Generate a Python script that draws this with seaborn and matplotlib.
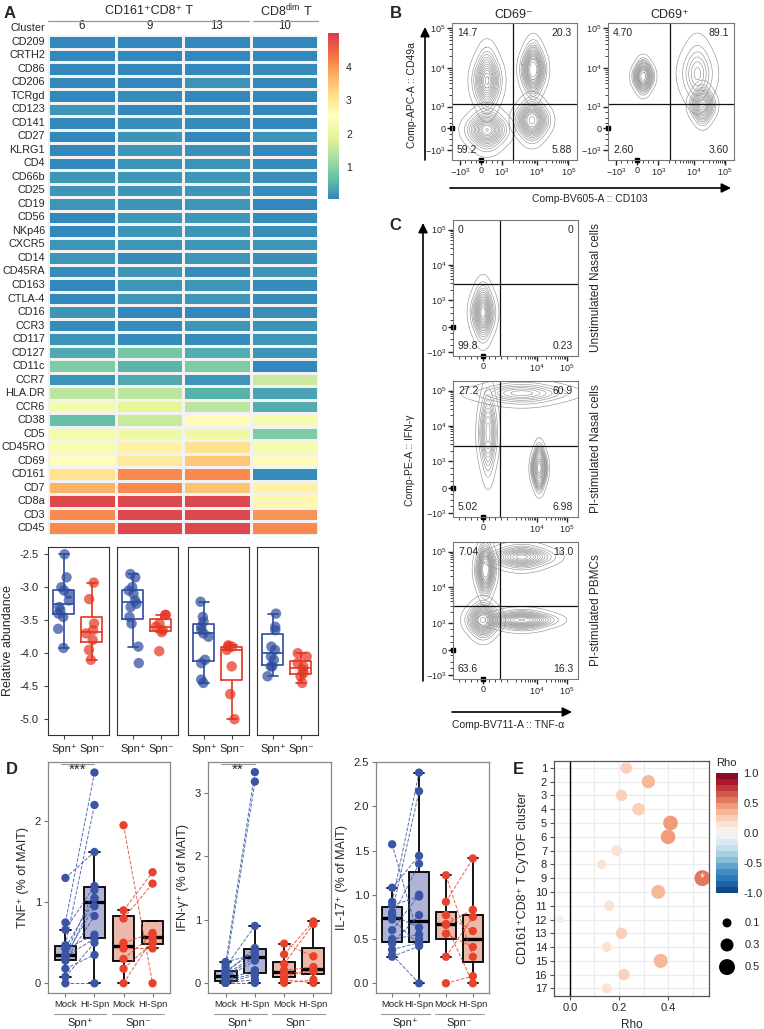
import numpy as np
import pandas as pd
import seaborn as sns
import matplotlib.pyplot as plt
from matplotlib.colors import LinearSegmentedColormap, ListedColormap, Normalize
from matplotlib.cm import ScalarMappable

# ---------------- data: panel A heatmap ----------------
clusters = ['6', '9', '13', '10']
markers = ['CD209', 'CRTH2', 'CD86', 'CD206', 'TCRgd', 'CD123', 'CD141', 'CD27', 'KLRG1',
           'CD4', 'CD66b', 'CD25', 'CD19', 'CD56', 'NKp46', 'CXCR5', 'CD14', 'CD45RA',
           'CD163', 'CTLA-4', 'CD16', 'CCR3', 'CD117', 'CD127', 'CD11c', 'CCR7', 'HLA.DR',
           'CCR6', 'CD38', 'CD5', 'CD45RO', 'CD69', 'CD161', 'CD7', 'CD8a', 'CD3', 'CD45']
expr_c6 = [0.05, 0.05, 0.05, 0.05, 0.05, 0.2, 0.05, 0.05, 0.05, 0.05, 0.2, 0.2, 0.2, 0.05,
           0.05, 0.2, 0.2, 0.1, 0.05, 0.05, 0.2, 0.1, 0.17, 0.4, 0.9, 0.17, 1.5, 2.2, 0.65,
           2.2, 2.35, 2.55, 3.05, 3.7, 4.85, 4.1, 4.1]
expr_c9 = [0.05, 0.05, 0.05, 0.05, 0.1, 0.05, 0.13, 0.2, 0.2, 0.17, 0.2, 0.2, 0.17, 0.2, 0.2,
           0.2, 0.1, 0.2, 0.2, 0.2, 0.05, 0.1, 0.1, 0.8, 0.55, 0.4, 1.5, 1.9, 1.6, 2.1, 2.8,
           2.95, 4.1, 4.1, 4.85, 4.85, 4.85]
expr_c13 = [0.05, 0.05, 0.05, 0.17, 0.05, 0.1, 0.1, 0.05, 0.13, 0.17, 0.2, 0.2, 0.2, 0.2, 0.2,
            0.22, 0.2, 0.1, 0.2, 0.22, 0.05, 0.2, 0.1, 0.45, 0.9, 0.2, 0.5, 1.5, 2.6, 2.1,
            3.1, 3.45, 4.1, 3.5, 4.85, 4.85, 4.85]
expr_c10 = [0.05, 0.05, 0.1, 0.05, 0.05, 0.05, 0.05, 0.17, 0.05, 0.1, 0.13, 0.1, 0.02, 0.1,
            0.13, 0.2, 0.13, 0.2, 0.1, 0.1, 0.13, 0.17, 0.2, 0.2, 0.05, 1.6, 0.35, 0.45, 2.3,
            0.9, 2.3, 2.6, 0.1, 2.8, 2.7, 4.0, 4.1]

# relative abundance (Spn+ / Spn-) per cluster
abund_pos = {
    '6': [-2.5, -2.85, -3.0, -3.05, -3.1, -3.2, -3.3, -3.35, -3.4, -3.45, -3.63, -3.92],
    '9': [-2.8, -2.85, -3.0, -3.05, -3.1, -3.25, -3.3, -3.45, -3.55, -3.9, -4.15, -3.2],
    '13': [-3.22, -3.45, -3.52, -3.6, -3.65, -3.7, -3.75, -4.1, -4.15, -4.4, -4.45],
    '10': [-3.4, -3.6, -3.65, -3.9, -3.95, -4.05, -4.1, -4.2, -4.2, -4.35],
}
abund_neg = {
    '6': [-2.93, -3.18, -3.55, -3.65, -3.7, -3.8, -3.95, -4.1],
    '9': [-3.42, -3.42, -3.55, -3.6, -3.65, -3.68, -3.97],
    '13': [-3.88, -3.9, -3.9, -3.95, -4.2, -4.62, -5.0],
    '10': [-4.0, -4.05, -4.15, -4.2, -4.25, -4.3, -4.35, -4.45],
}

# ---------------- data: flow plots (population centre + extent) -------
# each population: centre, left, right, bottom, top (display units 0-1) with event weights
b1_x = [0.28, 0.19, 0.37, 0.28, 0.28, 0.28, 0.22, 0.34, 0.28, 0.28,
        0.65, 0.60, 0.70, 0.65, 0.65, 0.64, 0.57, 0.71, 0.64, 0.64]
b1_y = [0.22, 0.22, 0.22, 0.14, 0.30, 0.58, 0.58, 0.58, 0.46, 0.70,
        0.66, 0.66, 0.66, 0.56, 0.76, 0.29, 0.29, 0.29, 0.21, 0.37]
b1_w = [10, 4, 4, 4, 4, 4, 2, 2, 2, 2, 5, 2.5, 2.5, 2.5, 2.5, 0.6, 0.3, 0.3, 0.3, 0.3]
b1_pop = ['ll'] * 5 + ['ul'] * 5 + ['ur'] * 5 + ['lr'] * 5
b2_x = [0.71, 0.63, 0.79, 0.71, 0.71, 0.75, 0.70, 0.80, 0.75, 0.75,
        0.28, 0.24, 0.32, 0.28, 0.28]
b2_y = [0.63, 0.63, 0.63, 0.49, 0.77, 0.40, 0.40, 0.40, 0.33, 0.47,
        0.61, 0.61, 0.61, 0.55, 0.67]
b2_w = [20, 5, 5, 5, 5, 0.5, 0.25, 0.25, 0.25, 0.25, 1.0, 0.5, 0.5, 0.5, 0.5]
b2_pop = ['main'] * 5 + ['tail'] * 5 + ['small'] * 5
c1_x = [0.24, 0.19, 0.29, 0.24, 0.24]
c1_y = [0.32, 0.32, 0.32, 0.21, 0.43]
c1_w = [8, 3, 3, 3, 3]
c1_pop = ['main'] * 5
c2_x = [0.55, 0.35, 0.75, 0.55, 0.55, 0.28, 0.24, 0.32, 0.28, 0.28,
        0.69, 0.66, 0.72, 0.69, 0.69]
c2_y = [0.91, 0.91, 0.91, 0.86, 0.96, 0.62, 0.62, 0.62, 0.45, 0.79,
        0.36, 0.36, 0.36, 0.28, 0.44]
c2_w = [10, 5, 5, 4, 4, 3, 1.5, 1.5, 1.5, 1.5, 2, 1, 1, 1, 1]
c2_pop = ['top'] * 5 + ['tail'] * 5 + ['lr'] * 5
c3_x = [0.55, 0.42, 0.68, 0.55, 0.55, 0.26, 0.22, 0.30, 0.26, 0.26,
        0.24, 0.17, 0.31, 0.24, 0.24, 0.55, 0.42, 0.68, 0.55, 0.55]
c3_y = [0.89, 0.89, 0.89, 0.84, 0.94, 0.80, 0.80, 0.80, 0.70, 0.90,
        0.43, 0.43, 0.43, 0.36, 0.50, 0.43, 0.43, 0.43, 0.39, 0.47]
c3_w = [5, 2.5, 2.5, 2, 2, 2, 1, 1, 1, 1, 15, 6, 6, 6, 6, 6, 4, 4, 3, 3]
c3_pop = ['top'] * 5 + ['ulobe'] * 5 + ['ll'] * 5 + ['lr'] * 5
quad_b1 = ['14.7', '20.3', '59.2', '5.88']
quad_b2 = ['4.70', '89.1', '2.60', '3.60']
quad_c1 = ['0', '0', '99.8', '0.23']
quad_c2 = ['27.2', '60.9', '5.02', '6.98']
quad_c3 = ['7.04', '13.0', '63.6', '16.3']

# ---------------- data: panel D (paired donors) ----------------
tnf_mock_pos = [1.30, 0.75, 0.66, 0.47, 0.44, 0.42, 0.35, 0.34, 0.33, 0.30, 0.28, 0.18, 0.08, 0.00]
tnf_hi_pos = [1.62, 2.60, 1.20, 2.20, 1.05, 0.60, 1.15, 0.95, 0.55, 1.05, 0.83, 0.35, 0.50, 0.00]
tnf_mock_neg = [1.95, 0.90, 0.80, 0.50, 0.43, 0.30, 0.18, 0.00]
tnf_hi_neg = [0.00, 1.37, 1.23, 0.62, 0.43, 0.60, 0.50, 0.55]
ifn_mock_pos = [0.33, 0.30, 0.25, 0.20, 0.18, 0.15, 0.13, 0.10, 0.08, 0.05, 0.03, 0.00, 0.00, 0.00]
ifn_hi_pos = [0.45, 3.33, 0.90, 3.18, 0.50, 0.55, 0.43, 0.40, 0.35, 0.20, 0.15, 0.12, 0.05, 0.00]
ifn_mock_neg = [0.62, 0.45, 0.30, 0.20, 0.15, 0.10, 0.05, 0.00]
ifn_hi_neg = [0.42, 0.97, 0.93, 0.25, 0.18, 0.20, 0.00, 0.05]
il17_mock_pos = [1.57, 1.08, 0.92, 0.88, 0.80, 0.77, 0.75, 0.72, 0.60, 0.50, 0.45, 0.38, 0.32, 0.30]
il17_hi_pos = [0.50, 1.44, 2.38, 0.98, 2.17, 0.63, 1.35, 0.44, 1.00, 0.55, 0.77, 0.46, 0.00, 0.42]
il17_mock_neg = [1.22, 0.92, 0.77, 0.67, 0.66, 0.56, 0.30, 0.00]
il17_hi_neg = [0.30, 1.41, 0.59, 0.83, 0.00, 0.41, 0.75, 0.08]

# ---------------- data: panel E ----------------
e_clusters = list(range(1, 18))
e_rho = [0.23, 0.32, 0.21, 0.28, 0.41, 0.40, 0.19, 0.13, 0.54, 0.36, 0.16, -0.04, 0.21, 0.15,
         0.37, 0.22, 0.15]
e_signif = [9]
size_keys = [0.1, 0.3, 0.5]

# ---------------- style ----------------
sns.set_style('ticks')
plt.rcParams['font.family'] = ['Liberation Sans', 'DejaVu Sans']
plt.rcParams['axes.unicode_minus'] = False
plt.rcParams['mathtext.default'] = 'regular'

W, H = 764, 1029


def rect(l, t, r, b):
    return [l / W, 1 - b / H, (r - l) / W, (b - t) / H]


fig = plt.figure(figsize=(W / 100, H / 100), dpi=100)

# ---------------- A: heatmap ----------------
hm = pd.DataFrame({'6': expr_c6, '9': expr_c9, '13': expr_c13, '10': expr_c10}, index=markers)
spectral9 = ['#3288BD', '#66C2A5', '#ABDDA4', '#E6F598', '#FFFFBF', '#FEE08B', '#FDAE61',
             '#F46D43', '#D53E4F']
hm_cmap = LinearSegmentedColormap.from_list('spec9', spectral9)
ax_hm = fig.add_axes(rect(48, 35, 318, 535))
cax_hm = fig.add_axes(rect(328, 33, 339, 199))
sns.heatmap(hm, ax=ax_hm, cmap=hm_cmap, vmin=0.05, vmax=5, cbar_ax=cax_hm,
            xticklabels=True, yticklabels=True,
            linewidths=0.8, linecolor='#f2f2f2', cbar_kws={'ticks': [1, 2, 3, 4]})
ax_hm.xaxis.tick_top()
ax_hm.set_xticklabels(clusters, rotation=0)
ax_hm.set_yticklabels(markers, rotation=0)
ax_hm.tick_params(axis='y', length=0, labelsize=7.8, pad=2)
ax_hm.tick_params(axis='x', length=0, labelsize=8.3, pad=2)
ax_hm.set_xlabel('')
ax_hm.set_ylabel('')
cax_hm.tick_params(length=0, labelsize=7.5, pad=5)
ax_hm.collections[0].colorbar.outline.set_visible(False)

# ---------------- A: boxplots ----------------
pal_a = {'Spn⁺': '#2d4b9e', 'Spn⁻': '#e5341f'}
box_cols = [(48, 109), (117, 178), (188, 249), (257, 318)]
np.random.seed(3)
for i, cl in enumerate(clusters):
    l, r = box_cols[i]
    ax = fig.add_axes(rect(l, 547, r, 735))
    df = pd.DataFrame({'group': ['Spn⁺'] * len(abund_pos[cl]) + ['Spn⁻'] * len(abund_neg[cl]),
                       'value': abund_pos[cl] + abund_neg[cl]})
    sns.boxplot(data=df, x='group', y='value', hue='group', palette=pal_a, fill=False,
                width=0.75, showfliers=False, linewidth=1.2, legend=False, ax=ax)
    sns.stripplot(data=df, x='group', y='value', hue='group', palette=pal_a, alpha=0.7,
                  size=7.5, jitter=0.22, legend=False, ax=ax, zorder=3)
    ax.set_xlim(-0.57, 1.61)
    ax.set_ylim(-5.24, -2.39)
    ax.set_xlabel('')
    ax.tick_params(labelsize=8, length=3, color='#444')
    for s in ax.spines.values():
        s.set_visible(True)
        s.set_color('#333')
        s.set_linewidth(0.8)
    if i == 0:
        ax.set_yticks([-2.5, -3.0, -3.5, -4.0, -4.5, -5.0])
        ax.set_ylabel('Relative abundance', fontsize=9)
    else:
        ax.set_yticks([])
        ax.set_ylabel('')

# ---------------- B / C: flow plots ----------------


def log_minor(lo, hi):
    return [lo + (hi - lo) * np.log10(k) for k in range(2, 10)]


def flow_axis(ax, fx, fy, fw, fpop, xt, xl, xminor, yt, yl, yminor, gx, gy, quad,
              zero_x, zero_y):
    fdf = pd.DataFrame({'x': fx, 'y': fy, 'w': fw, 'pop': fpop})
    pops = list(dict.fromkeys(fpop))
    sns.kdeplot(data=fdf, x='x', y='y', weights='w', hue='pop', hue_order=pops,
                palette={p: '#959595' for p in pops}, common_norm=True, ax=ax,
                levels=16, thresh=0.02, bw_adjust=1.4, linewidths=0.45, legend=False)
    ax.set_xlim(0, 1)
    ax.set_ylim(0, 1)
    ax.set_xticks(xt)
    ax.set_xticklabels(xl)
    ax.set_yticks(yt)
    ax.set_yticklabels(yl)
    ax.set_xticks(xminor, minor=True)
    ax.set_yticks(yminor, minor=True)
    ax.tick_params(which='major', labelsize=6.5, length=3.5, width=1.0, pad=1)
    ax.tick_params(which='minor', length=2, width=0.6)
    ax.plot([zero_x], [0], marker='s', ms=3.5, color='black', clip_on=False,
            transform=ax.transAxes)
    ax.plot([0], [zero_y], marker='s', ms=3.5, color='black', clip_on=False,
            transform=ax.transAxes)
    ax.axvline(gx, color='#111', lw=0.9)
    ax.axhline(gy, color='#111', lw=0.9)
    for s in ax.spines.values():
        s.set_visible(True)
        s.set_color('#777')
        s.set_linewidth(0.8)
    ax.text(0.04, 0.93, quad[0], transform=ax.transAxes, fontsize=7.5, va='center')
    ax.text(0.96, 0.93, quad[1], transform=ax.transAxes, fontsize=7.5, va='center', ha='right')
    ax.text(0.04, 0.07, quad[2], transform=ax.transAxes, fontsize=7.5, va='center')
    ax.text(0.96, 0.07, quad[3], transform=ax.transAxes, fontsize=7.5, va='center', ha='right')
    ax.set_xlabel('')
    ax.set_ylabel('')


dec_lab = ['$-10^3$', '0', '$10^3$', '$10^4$', '$10^5$']
bx = [0.064, 0.23, 0.40, 0.68, 0.93]
by = [0.07, 0.23, 0.39, 0.67, 0.96]
bx_minor = list(np.linspace(bx[0], bx[2], 9)) + log_minor(bx[2], bx[3]) + log_minor(bx[3], bx[4])
by_minor = list(np.linspace(by[0], by[2], 9)) + log_minor(by[2], by[3]) + log_minor(by[3], by[4])
for (l, r), fx, fy, fw, fp, q in [((452, 577), b1_x, b1_y, b1_w, b1_pop, quad_b1),
                                  ((608, 734), b2_x, b2_y, b2_w, b2_pop, quad_b2)]:
    ax = fig.add_axes(rect(l, 23, r, 160))
    flow_axis(ax, fx, fy, fw, fp, bx, dec_lab, bx_minor, by, dec_lab, by_minor,
              0.49, 0.41, q, bx[1], by[1])

cx = [0.24, 0.67, 0.91]
cx_minor = list(np.linspace(0.05, 0.43, 9)) + log_minor(0.43, 0.67) + log_minor(0.67, 0.91)
cy = [0.03, 0.21, 0.41, 0.67, 0.93]
cy_minor = list(np.linspace(cy[0], cy[2], 9)) + log_minor(cy[2], cy[3]) + log_minor(cy[3], cy[4])
c_gy = [0.53, 0.52, 0.53]
for k, ((t, b), fx, fy, fw, fp, q) in enumerate([
        ((220, 356), c1_x, c1_y, c1_w, c1_pop, quad_c1),
        ((381, 517), c2_x, c2_y, c2_w, c2_pop, quad_c2),
        ((542, 679), c3_x, c3_y, c3_w, c3_pop, quad_c3)]):
    ax = fig.add_axes(rect(453, t, 578, b))
    flow_axis(ax, fx, fy, fw, fp, cx, ['0', '$10^4$', '$10^5$'], cx_minor, cy, dec_lab,
              cy_minor, 0.38, c_gy[k], q, cx[0], cy[1])

# ---------------- D: paired cytokine boxplots ----------------
order_d = ['Mock+', 'HI+', 'Mock-', 'HI-']
fill_d = {'pos': '#a9afdc', 'neg': '#f6b29e'}
pt_d = {'pos': '#3a55a6', 'neg': '#e8412c'}


def paired_frame(mock_pos, hi_pos, mock_neg, hi_neg):
    rows = []
    for d, (m, h) in enumerate(zip(mock_pos, hi_pos)):
        rows.append(('Mock+', 'pos', m, 'p%d' % d, 0))
        rows.append(('HI+', 'pos', h, 'p%d' % d, 1))
    for d, (m, h) in enumerate(zip(mock_neg, hi_neg)):
        rows.append(('Mock-', 'neg', m, 'n%d' % d, 2))
        rows.append(('HI-', 'neg', h, 'n%d' % d, 3))
    return pd.DataFrame(rows, columns=['cat', 'grp', 'value', 'donor', 'xpos'])


d_panels = [
    ((48, 170), paired_frame(tnf_mock_pos, tnf_hi_pos, tnf_mock_neg, tnf_hi_neg),
     'TNF⁺ (% of MAIT)', (-0.12, 2.73), [0, 1, 2], ['0', '1', '2'], '***'),
    ((208, 331), paired_frame(ifn_mock_pos, ifn_hi_pos, ifn_mock_neg, ifn_hi_neg),
     'IFN-γ⁺ (% of MAIT)', (-0.16, 3.49), [0, 1, 2, 3], ['0', '1', '2', '3'], '**'),
    ((376, 489), paired_frame(il17_mock_pos, il17_hi_pos, il17_mock_neg, il17_hi_neg),
     'IL-17⁺ (% of MAIT)', (-0.11, 2.5), [0, 0.5, 1, 1.5, 2, 2.5],
     ['0.0', '0.5', '1.0', '1.5', '2.0', '2.5'], None),
]
for (l, r), df, ylab, ylim, yt, ytl, star in d_panels:
    ax = fig.add_axes(rect(l, 762, r, 993))
    sns.boxplot(data=df, x='cat', y='value', hue='grp', order=order_d, palette=fill_d,
                dodge=False, width=0.75, showfliers=False, linecolor='black', linewidth=1.3,
                medianprops={'linewidth': 2.4}, legend=False, ax=ax)
    for g in ['pos', 'neg']:
        sub = df[df['grp'] == g]
        sns.lineplot(data=sub, x='xpos', y='value', units='donor', estimator=None,
                     color=pt_d[g], linestyle='--', linewidth=0.7, alpha=0.85, legend=False,
                     ax=ax, zorder=2.5)
    sns.stripplot(data=df, x='cat', y='value', hue='grp', order=order_d, palette=pt_d,
                  jitter=False, size=6, legend=False, ax=ax, zorder=3)
    ax.set_xlim(-0.6, 3.6)
    ax.set_ylim(*ylim)
    ax.set_yticks(yt)
    ax.set_yticklabels(ytl)
    ax.set_xticks([0, 1, 2, 3])
    ax.set_xticklabels(['Mock', 'HI-Spn', 'Mock', 'HI-Spn'])
    ax.tick_params(axis='y', labelsize=8, length=3, color='#777', pad=2)
    ax.tick_params(axis='x', labelsize=6.8, length=3, color='#777', pad=2)
    ax.set_xlabel('')
    ax.set_ylabel(ylab, fontsize=9)
    for s in ax.spines.values():
        s.set_visible(True)
        s.set_color('#888')
        s.set_linewidth(0.9)
    tr = ax.get_xaxis_transform()
    for a, b, lab in [(-0.4, 1.4, 'Spn⁺'), (1.6, 3.4, 'Spn⁻')]:
        ax.plot([a, b], [-0.093, -0.093], color='#999', lw=0.8, transform=tr, clip_on=False)
        ax.text((a + b) / 2, -0.128, lab, transform=tr, ha='center', va='center', fontsize=8)
    if star:
        ax.plot([-0.15, 1.0], [0.99, 0.99], color='#999', lw=0.8, transform=tr, clip_on=False)
        ax.text(0.42, 0.995, star, transform=tr, ha='center', va='top', fontsize=11)

# ---------------- E: correlation bubbles ----------------
e_cmap = ListedColormap(sns.color_palette('RdBu_r', 20))
rho_df = pd.DataFrame({'cluster': e_clusters, 'rho': e_rho, 'abs_rho': np.abs(e_rho)})
ax_e = fig.add_axes(rect(554, 761, 709, 996))
ax_e.set_axisbelow(True)
ax_e.set_xticks([0.1, 0.3, 0.5], minor=True)
ax_e.grid(True, which='both', color='#ebebeb', lw=0.8)
ax_e.axvline(0, color='black', lw=1.0, zorder=1)
sns.scatterplot(data=rho_df, x='rho', y='cluster', hue='rho', palette=e_cmap, hue_norm=(-1, 1),
                size='abs_rho', sizes=(19.5, 132), size_norm=(0, 0.5), legend=False,
                edgecolor='none', ax=ax_e, zorder=3)
for c in e_signif:
    ax_e.text(e_rho[e_clusters.index(c)], c, '*', color='white', ha='center', va='center',
              fontsize=9, zorder=4)
ax_e.set_xlim(-0.065, 0.567)
ax_e.set_ylim(17.55, 0.5)
ax_e.set_xticks([0.0, 0.2, 0.4])
ax_e.set_xticklabels(['0.0', '0.2', '0.4'])
ax_e.set_yticks(e_clusters)
ax_e.tick_params(which='major', labelsize=8, length=3, color='#555', pad=2)
ax_e.tick_params(which='minor', length=0)
ax_e.set_xlabel('Rho', fontsize=8.5)
ax_e.set_ylabel('CD161⁺CD8⁺ T CyTOF cluster', fontsize=9)
for s in ax_e.spines.values():
    s.set_visible(True)
    s.set_color('#555')
    s.set_linewidth(0.9)

cax_e = fig.add_axes(rect(716, 773, 738, 893))
cb = fig.colorbar(ScalarMappable(Normalize(-1, 1), e_cmap), cax=cax_e,
                  ticks=[-1, -0.5, 0, 0.5, 1])
cb.ax.set_yticklabels(['-1.0', '-0.5', '0.0', '0.5', '1.0'])
cb.ax.tick_params(labelsize=8, length=3, color='white', direction='in', pad=4)
cb.outline.set_visible(False)

ax_sl = fig.add_axes(rect(716, 913, 764, 977))
sns.scatterplot(x=[0] * len(size_keys), y=list(range(len(size_keys))), size=size_keys,
                sizes=(19.5, 132), size_norm=(0, 0.5), color='black', edgecolor='none',
                legend=False, ax=ax_sl)
for j, v in enumerate(size_keys):
    ax_sl.text(1.6, j, str(v), fontsize=8, va='center')
ax_sl.set_xlim(-1, 3.36)
ax_sl.set_ylim(2.45, -0.45)
ax_sl.axis('off')

# ---------------- overlay text, arrows, headers ----------------
ov = fig.add_axes([0, 0, 1, 1], zorder=10)
ov.set_xlim(0, W)
ov.set_ylim(H, 0)
ov.axis('off')
for txt, x, y in [('A', 4, 13), ('B', 390, 13), ('C', 389, 226), ('D', 6, 769), ('E', 513, 769)]:
    ov.text(x, y, txt, fontsize=12, fontweight='bold', va='center')
ov.text(149, 11, 'CD161⁺CD8⁺ T', fontsize=9, ha='center', va='center')
ov.plot([48, 249], [21, 21], color='#999', lw=0.9)
ov.text(286, 11, 'CD8$^{dim}$ T', fontsize=9, ha='center', va='center')
ov.plot([253, 318], [21, 21], color='#999', lw=0.9)
ov.text(45, 28, 'Cluster', fontsize=7.8, ha='right', va='center')
ov.text(514, 15, 'CD69⁻', fontsize=9, ha='center', va='center')
ov.text(670, 15, 'CD69⁺', fontsize=9, ha='center', va='center')
arrow = dict(arrowstyle='-|>', lw=1.2, color='black', mutation_scale=14, shrinkA=0, shrinkB=0)
ov.annotate('', xy=(425, 27), xytext=(425, 160), arrowprops=arrow)
ov.annotate('', xy=(731, 188), xytext=(450, 188), arrowprops=arrow)
ov.text(412, 95, 'Comp-APC-A :: CD49a', rotation=90, fontsize=7.5, ha='center', va='center')
ov.text(590, 199, 'Comp-BV605-A :: CD103', fontsize=7.5, ha='center', va='center')
ov.annotate('', xy=(423, 223), xytext=(423, 681), arrowprops=arrow)
ov.annotate('', xy=(572, 712), xytext=(452, 712), arrowprops=arrow)
ov.text(410, 460, 'Comp-PE-A :: IFN-γ', rotation=90, fontsize=7.5, ha='center', va='center')
ov.text(508, 725, 'Comp-BV711-A :: TNF-α', fontsize=7.5, ha='center', va='center')
for y, lab in [(288, 'Unstimulated Nasal cells'), (449, 'PI-stimulated Nasal cells'),
               (610, 'PI-stimulated PBMCs')]:
    ov.text(596, y, lab, rotation=90, fontsize=8.5, ha='center', va='center')
ov.text(716, 768, 'Rho', fontsize=8, ha='left', va='bottom')

fig.savefig('out.png', dpi=100)
plt.close(fig)
